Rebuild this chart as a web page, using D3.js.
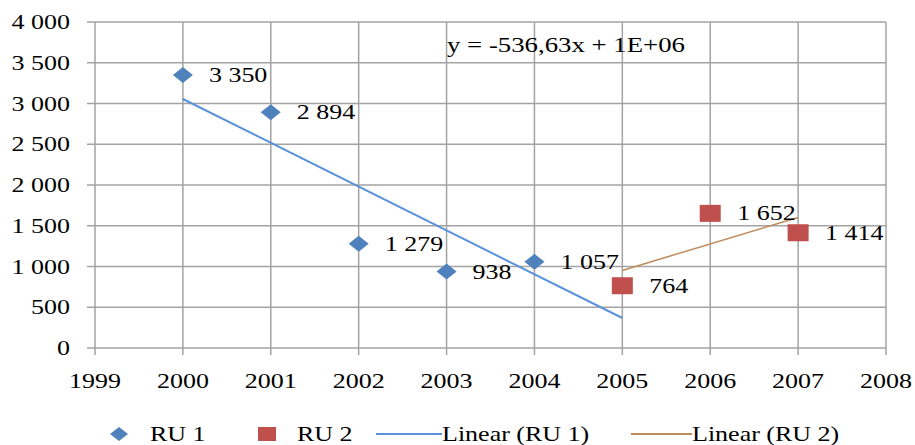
<!DOCTYPE html>
<html><head><meta charset="utf-8">
<script src="https://cdn.jsdelivr.net/npm/d3@7"></script>
<style>body{margin:0;background:#fff}svg{display:block}</style>
</head><body><svg id="c" width="915" height="445" font-family="'Liberation Serif', 'DejaVu Serif', serif"></svg>
<script>
const years1 = [2000, 2001, 2002, 2003, 2004];
const values1 = [3350, 2894, 1279, 938, 1057];
const labels1 = ["3 350", "2 894", "1 279", "938", "1 057"];
const years2 = [2005, 2006, 2007];
const values2 = [764, 1652, 1414];
const labels2 = ["764", "1 652", "1 414"];
const trend1 = [[2000, 3055], [2005, 368]];
const trend2 = [[2005, 952], [2007, 1602]];
const xTicks = [1999, 2000, 2001, 2002, 2003, 2004, 2005, 2006, 2007, 2008];
const yTicks = [0, 500, 1000, 1500, 2000, 2500, 3000, 3500, 4000];
const yTickLabels = ["0", "500", "1 000", "1 500", "2 000", "2 500", "3 000", "3 500", "4 000"];
const equation = "y = -536,63x + 1E+06";
const legendItems = ["RU 1", "RU 2", "Linear (RU 1)", "Linear (RU 2)"];

const svg = d3.select("#c");
const x = d3.scaleLinear().domain([1999, 2008]).range([95, 886]);
const y = d3.scaleLinear().domain([0, 4000]).range([348, 22]);
const grid = "#a3a3a3";
const c1 = "#4F81BD", c2 = "#C0504D", t1 = "#5B93DB", t2 = "#C08A5A";
const SX = 1.3, FS = 20;

function txt(g, px, py, s, anchor, sx) {
  return g.append("text").attr("transform", `translate(${px},${py}) scale(${sx || SX},1)`)
    .attr("dy", "0.35em").attr("text-anchor", anchor || "start")
    .attr("font-size", FS).attr("fill", "#000").text(s);
}
function diamondPath(w, h) {
  return `M0,${-h/2}L${w/2},0L0,${h/2}L${-w/2},0Z`;
}

// horizontal gridlines
svg.append("g").selectAll("line").data(yTicks).join("line")
  .attr("x1", 87).attr("x2", x(2008)).attr("y1", d => y(d)).attr("y2", d => y(d))
  .attr("stroke", grid).attr("stroke-width", 1.5);
// vertical gridlines
svg.append("g").selectAll("line").data(xTicks).join("line")
  .attr("x1", d => x(d)).attr("x2", d => x(d)).attr("y1", y(4000)).attr("y2", 355)
  .attr("stroke", grid).attr("stroke-width", 1.5);

const gy = svg.append("g");
yTicks.forEach((d, i) => txt(gy, 70, y(d), yTickLabels[i], "end"));
const gx = svg.append("g");
xTicks.forEach(d => txt(gx, x(d), 381, String(d), "middle"));

const line = d3.line().x(d => x(d[0])).y(d => y(d[1]));
svg.append("path").attr("d", line(trend1)).attr("fill", "none").attr("stroke", t1).attr("stroke-width", 2);
svg.append("path").attr("d", line(trend2)).attr("fill", "none").attr("stroke", t2).attr("stroke-width", 1.5);

svg.append("g").selectAll("path").data(years1).join("path")
  .attr("d", diamondPath(20, 16)).attr("transform", (d, i) => `translate(${x(d)},${y(values1[i])})`)
  .attr("fill", c1);
svg.append("g").selectAll("rect").data(years2).join("rect")
  .attr("x", d => x(d) - 10.5).attr("y", (d, i) => y(values2[i]) - 8.5).attr("width", 21).attr("height", 17)
  .attr("fill", c2);

const gl = svg.append("g");
years1.forEach((d, i) => txt(gl, x(d) + 26, y(values1[i]), labels1[i]));
years2.forEach((d, i) => txt(gl, x(d) + 27, y(values2[i]), labels2[i]));

txt(svg, 447, 45, equation, "start", 1.34);

// legend
const ly = 434;
const lg = svg.append("g");
lg.append("path").attr("d", diamondPath(18, 14)).attr("transform", `translate(119,${ly})`).attr("fill", c1);
txt(lg, 150, ly, legendItems[0]);
lg.append("rect").attr("x", 258).attr("y", ly - 7).attr("width", 18).attr("height", 14).attr("fill", c2);
txt(lg, 297, ly, legendItems[1]);
lg.append("line").attr("x1", 376).attr("x2", 442).attr("y1", ly).attr("y2", ly).attr("stroke", t1).attr("stroke-width", 2);
txt(lg, 442, ly, legendItems[2]);
lg.append("line").attr("x1", 631).attr("x2", 692).attr("y1", ly).attr("y2", ly).attr("stroke", t2).attr("stroke-width", 2);
txt(lg, 692, ly, legendItems[3]);
</script></body></html>
